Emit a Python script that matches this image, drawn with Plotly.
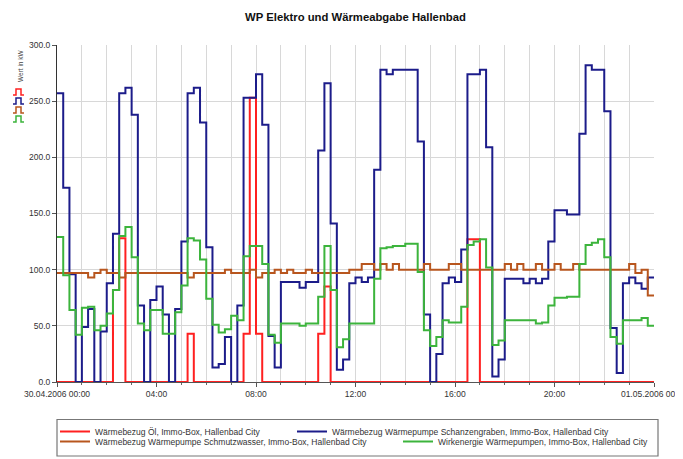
import pandas as pd
import plotly.graph_objects as go

# ---------------- data (15-minute steps, 30.04.2006 00:00 .. 01.05.2006 00:00) ----------------
start_time = "2006-04-30 00:00"
step = "15min"

series_names = [
    "Wärmebezug Öl, Immo-Box, Hallenbad City",
    "Wärmebezug Wärmepumpe Schanzengraben, Immo-Box, Hallenbad City",
    "Wärmebezug Wärmepumpe Schmutzwasser, Immo-Box, Hallenbad City",
    "Wirkenergie Wärmepumpen, Immo-Box, Hallenbad City",
]

oel = [0, 0, 0, 0, 0, 0, 0, 0, 0, 82, 128, 0,
       0, 0, 0, 0, 0, 0, 0, 0, 0, 43, 0, 0,
       0, 0, 0, 0, 0, 0, 43, 253, 43, 0, 0, 0,
       0, 0, 0, 0, 0, 0, 43, 85, 0, 0, 0, 0,
       0, 0, 0, 0, 0, 0, 0, 0, 0, 0, 0, 0,
       0, 0, 0, 0, 0, 0, 127, 127, 0, 0, 0, 0,
       0, 0, 0, 0, 0, 0, 0, 0, 0, 0, 0, 0,
       0, 0, 0, 0, 0, 0, 0, 0, 0, 0, 0, 0]

schanzengraben = [257, 173, 96, 0, 49, 65, 0, 45, 88, 132, 257, 262,
                  238, 68, 0, 73, 85, 60, 0, 65, 125, 257, 262, 231,
                  120, 13, 16, 40, 0, 68, 253, 253, 274, 229, 41, 13,
                  89, 89, 89, 84, 89, 89, 206, 266, 141, 11, 20, 88,
                  93, 89, 93, 189, 278, 274, 278, 278, 278, 278, 214, 60,
                  0, 25, 88, 93, 89, 118, 274, 274, 278, 209, 5, 20,
                  92, 92, 92, 88, 92, 88, 92, 125, 153, 153, 149, 149,
                  221, 282, 278, 278, 241, 48, 8, 88, 93, 88, 83, 93]

schmutzwasser = [97, 97, 97, 97, 97, 93, 97, 100, 97, 97, 93, 97,
                 97, 97, 97, 97, 97, 97, 97, 97, 97, 93, 97, 97,
                 97, 97, 97, 100, 97, 97, 97, 100, 93, 97, 97, 100,
                 97, 100, 97, 97, 100, 97, 97, 97, 97, 97, 97, 100,
                 100, 105, 105, 100, 105, 100, 105, 100, 100, 100, 100, 105,
                 100, 100, 100, 105, 105, 100, 100, 100, 100, 100, 100, 100,
                 105, 100, 105, 100, 100, 105, 100, 100, 105, 100, 100, 105,
                 100, 100, 100, 100, 100, 100, 100, 100, 105, 97, 100, 77]

wirkenergie = [129, 95, 64, 42, 66, 67, 46, 50, 61, 82, 130, 138,
               111, 52, 46, 64, 64, 43, 43, 62, 86, 128, 126, 109,
               74, 51, 44, 47, 59, 55, 112, 121, 121, 105, 42, 35,
               52, 52, 52, 50, 52, 52, 76, 121, 82, 31, 38, 52,
               52, 52, 52, 92, 119, 120, 121, 121, 123, 123, 98, 46,
               32, 40, 55, 53, 53, 67, 122, 125, 127, 102, 33, 37,
               55, 55, 55, 55, 55, 52, 53, 68, 75, 75, 76, 76,
               105, 122, 124, 127, 111, 40, 34, 55, 55, 55, 57, 50]

x_tick_vals = ["2006-04-30 00:00", "2006-04-30 04:00", "2006-04-30 08:00", "2006-04-30 12:00",
               "2006-04-30 16:00", "2006-04-30 20:00", "2006-05-01 00:00"]
x_tick_text = ["30.04.2006 00:00", "04:00", "08:00", "12:00", "16:00", "20:00", "01.05.2006 00:00"]
y_tick_vals = [0, 50, 100, 150, 200, 250, 300]
y_tick_text = ["0.0", "50.0", "100.0", "150.0", "200.0", "250.0", "300.0"]

colors = ["#ff2020", "#1c1c8a", "#b8561e", "#3cb43c"]

# ---------------- geometry (page pixels; the page body adds an 8 px offset) ----------------
OFF = 8
PAGE_W, PAGE_H = 683, 459
P_LEFT, P_RIGHT, P_TOP, P_BOTTOM = 57, 654, 45, 382   # plot area in page pixels
W, H = PAGE_W - OFF, PAGE_H - OFF
ML, MT = P_LEFT - OFF, P_TOP - OFF
MR, MB = W - (P_RIGHT - OFF), H - (P_BOTTOM - OFF)


def px_x(p):
    return (p - P_LEFT) / (P_RIGHT - P_LEFT)


def px_y(p):
    return (P_BOTTOM - p) / (P_BOTTOM - P_TOP)


times = pd.date_range(start_time, periods=len(oel) + 1, freq=step)

fig = go.Figure()
legend_ids = ["legend", "legend2", "legend3", "legend4"]
for name, vals, col, lg in zip(series_names, [oel, schanzengraben, schmutzwasser, wirkenergie], colors, legend_ids):
    fig.add_trace(go.Scatter(
        x=times, y=list(vals) + [vals[-1]], mode="lines", name=name,
        line=dict(color=col, width=2, shape="hv"), legend=lg, showlegend=True,
    ))

font_main = "Liberation Sans, Arial, sans-serif"
leg_common = dict(orientation="h", xanchor="left", yanchor="middle", bgcolor="rgba(0,0,0,0)",
                  font=dict(family=font_main, size=8.5, color="#333333"), itemwidth=30,
                  borderwidth=0, visible=True)

ROW1, ROW2 = 431.5, 441.5

fig.update_layout(
    width=W, height=H,
    margin=dict(l=ML, r=MR, t=MT, b=MB, pad=0, autoexpand=False),
    paper_bgcolor="white", plot_bgcolor="white",
    showlegend=True,
    title=dict(text="<b>WP Elektro und Wärmeabgabe Hallenbad</b>", x=0.5, xref="paper", xanchor="center",
               y=1 - (17 - OFF) / H, yref="container", yanchor="middle",
               font=dict(family=font_main, size=11.3, color="#111111")),
    legend=dict(x=px_x(55), y=px_y(ROW1), **leg_common),
    legend2=dict(x=px_x(292), y=px_y(ROW1), **leg_common),
    legend3=dict(x=px_x(55), y=px_y(ROW2), **leg_common),
    legend4=dict(x=px_x(398), y=px_y(ROW2), **leg_common),
    xaxis=dict(
        type="date", range=[x_tick_vals[0], x_tick_vals[-1]],
        tickmode="array", tickvals=x_tick_vals, ticktext=x_tick_text,
        showgrid=True, gridcolor="#d8d8d8", gridwidth=1,
        minor=dict(dtick=3600000, tick0=x_tick_vals[0], showgrid=True, gridcolor="#d8d8d8", gridwidth=1,
                   ticks="outside", ticklen=2, tickcolor="#666666"),
        showline=True, linecolor="#555555", linewidth=1,
        ticks="outside", ticklen=4, tickcolor="#555555",
        tickfont=dict(family=font_main, size=8.5, color="#333333"),
        ticklabeloverflow="allow",
        zeroline=False, automargin=False,
    ),
    yaxis=dict(
        range=[0, 300], tickmode="array", tickvals=y_tick_vals, ticktext=y_tick_text,
        showgrid=True, gridcolor="#d8d8d8", gridwidth=1,
        showline=True, linecolor="#333333", linewidth=1,
        ticks="outside", ticklen=4, tickcolor="#555555",
        tickfont=dict(family=font_main, size=8.5, color="#333333"),
        zeroline=False, automargin=False,
    ),
    annotations=[dict(
        text="Wert in kW", textangle=-90, x=px_x(20), y=px_y(66), xref="paper", yref="paper",
        showarrow=False, font=dict(family=font_main, size=6.5, color="#444444"),
        xanchor="center", yanchor="middle",
    )],
)

# legend frame
shapes = [dict(type="rect", xref="paper", yref="paper", x0=px_x(57), x1=px_x(658),
               y0=px_y(456), y1=px_y(419.5), line=dict(color="#777777", width=1.2),
               fillcolor="rgba(0,0,0,0)", layer="above")]

# small step glyphs below the y-axis title
for col, cy in zip(colors, [92, 101, 110, 119]):
    pts = [(13, cy + 3), (16, cy + 3), (16, cy - 3), (21, cy - 3), (21, cy + 3), (24, cy + 3)]
    path = "M " + " L ".join(f"{px_x(a):.5f},{px_y(b):.5f}" for a, b in pts)
    shapes.append(dict(type="path", xref="paper", yref="paper", path=path,
                       line=dict(color=col, width=1.5)))
fig.update_layout(shapes=shapes)

fig.write_html("out.html")
